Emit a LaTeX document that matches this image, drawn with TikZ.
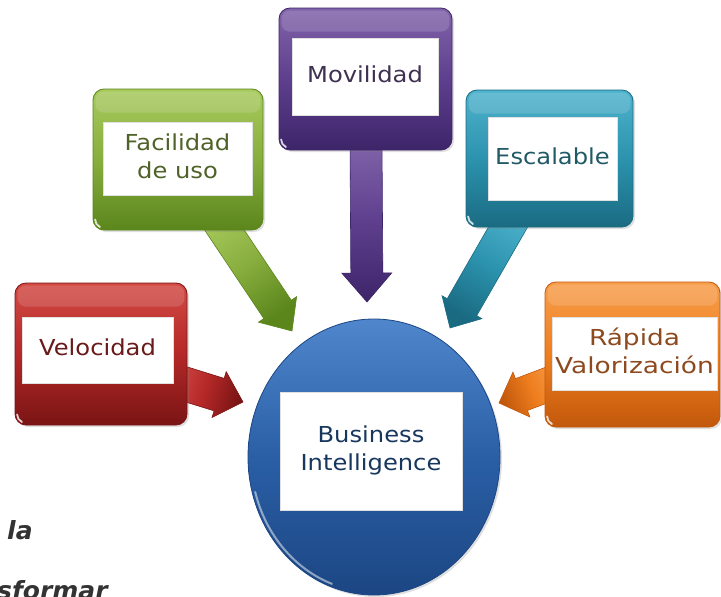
\documentclass[tikz,border=0pt]{standalone}
\usepackage{fontspec}
\setmainfont{DejaVu Sans}
\usetikzlibrary{calc,shadows,shapes.geometric}

% palette
\definecolor{redT}{HTML}{D24A44}\definecolor{redM}{HTML}{B42828}\definecolor{redB}{HTML}{7A1414}\definecolor{redTx}{HTML}{6A1A1A}
\definecolor{grnT}{HTML}{A8CA5E}\definecolor{grnM}{HTML}{88AE3E}\definecolor{grnB}{HTML}{5B861C}\definecolor{grnTx}{HTML}{4F6228}
\definecolor{purT}{HTML}{8164AA}\definecolor{purM}{HTML}{5E3F8E}\definecolor{purB}{HTML}{3D2569}\definecolor{purTx}{HTML}{3F3151}
\definecolor{tealT}{HTML}{4EB2CC}\definecolor{tealM}{HTML}{2C93AE}\definecolor{tealB}{HTML}{1A6B82}\definecolor{tealTx}{HTML}{215967}
\definecolor{orgT}{HTML}{F79E4C}\definecolor{orgM}{HTML}{EE7E1E}\definecolor{orgB}{HTML}{C2580C}\definecolor{orgTx}{HTML}{8E4A1E}
\definecolor{bluT}{HTML}{4F86CC}\definecolor{bluM}{HTML}{2A5FA6}\definecolor{bluB}{HTML}{1C4683}\definecolor{bluTx}{HTML}{17375E}

% horizontally widened, centred lines of text
\newcommand\widetext[2]{\scalebox{#1}[1]{\begin{tabular}{@{}c@{}}#2\end{tabular}}}

% block arrow: #1 colour prefix, #2 start, #3 tip, #4 half shaft, #5 half head, #6 head length, #7 shading angle
\newcommand\blockarrow[7]{%
  \coordinate (#2-base) at ($(#3)!#6!(#2)$);
  \path[draw=#1B, line width=0.6pt, left color=#1T, right color=#1B, middle color=#1M, shading angle=#7]
    ($(#2)!#4!90:(#3)$) -- ($(#2-base)!#4!90:(#3)$) -- ($(#2-base)!#5!90:(#3)$) -- (#3)
    -- ($(#2-base)!#5!-90:(#3)$) -- ($(#2-base)!#4!-90:(#3)$) -- ($(#2)!#4!-90:(#3)$) -- cycle;}

\tikzset{
  panel/.style={rounded corners=11pt, line width=0.8pt, inner sep=0pt,
    drop shadow={opacity=0.25, shadow xshift=2pt, shadow yshift=-2pt}},
  plate/.style={fill=white, draw=black!12, line width=0.4pt, inner sep=0pt,
    font=\fontsize{22}{28}\selectfont},
  gloss/.style={white, opacity=0.14},
  spark/.style={white, opacity=0.8},
  side/.style={font=\bfseries\itshape\fontsize{25}{30}\selectfont, text=black!80, inner sep=0pt}
}

\begin{document}
\begin{tikzpicture}[x=1pt, y=-1pt]
\useasboundingbox (0,0) rectangle (721,597);

% arrow end points
\coordinate (vs) at (172,380);  \coordinate (vt) at (243,402);
\coordinate (fs) at (209,207);  \coordinate (ft) at (292,331);
\coordinate (ms) at (366,140);  \coordinate (mt) at (367,302);
\coordinate (es) at (519,208);  \coordinate (et) at (450,328);
\coordinate (rs) at (560,380);  \coordinate (rt) at (499,403);

% arrows, behind the panels
\blockarrow{red}{vs}{vt}{17pt}{24pt}{25pt}{73}
\blockarrow{grn}{fs}{ft}{16.5pt}{23pt}{26pt}{34}
\blockarrow{pur}{ms}{mt}{16pt}{25pt}{29pt}{0}
\blockarrow{teal}{es}{et}{17pt}{23pt}{24pt}{-30}
\blockarrow{org}{rs}{rt}{17pt}{24pt}{24pt}{-69}

% coloured panels
\node[panel, draw=redB, top color=redT, bottom color=redB, middle color=redM,
      minimum width=172pt, minimum height=142pt] (vel) at (101,354) {};
\node[panel, draw=grnB, top color=grnT, bottom color=grnB, middle color=grnM,
      minimum width=170pt, minimum height=141pt] (fac) at (178,159.5) {};
\node[panel, draw=purB, top color=purT, bottom color=purB, middle color=purM,
      minimum width=173pt, minimum height=142pt] (mov) at (365.5,79) {};
\node[panel, draw=tealB, top color=tealT, bottom color=tealB, middle color=tealM,
      minimum width=167pt, minimum height=137pt] (esc) at (549.5,158.5) {};
\node[panel, draw=orgB, top color=orgT, bottom color=orgB, middle color=orgM,
      minimum width=175pt, minimum height=145pt] (rap) at (632.5,354.5) {};

% glossy top bands and corner glints
\foreach \b in {vel,fac,mov,esc,rap}{
  \fill[gloss, rounded corners=8pt] ($(\b.north west)+(3,3)$) rectangle ($(\b.north east)+(-3,24)$);
  \draw[spark, line width=1.8pt, line cap=round] ($(\b.south west)+(2.5,-11)$) arc[radius=8.5pt, start angle=180, end angle=245];
}

% central disc
\node[ellipse, draw=bluB, line width=0.8pt, top color=bluT, bottom color=bluB, middle color=bluM,
      minimum width=252pt, minimum height=276pt, inner sep=0pt,
      drop shadow={opacity=0.25, shadow xshift=2pt, shadow yshift=-2pt}] (bi) at (374,457) {};
% light rim along the lower left of the disc
\draw[white, opacity=0.5, line width=2pt, line cap=round]
  ($(bi.center)+({123*cos(195)},{-135*sin(195)})$) arc[x radius=123pt, y radius=135pt, start angle=195, end angle=250];

% text plates
\node[plate, text=redTx,  minimum width=151pt, minimum height=66pt] (velt) at (97.5,350) {\widetext{1.1}{Velocidad}};
\node[plate, text=grnTx,  minimum width=149pt, minimum height=73pt] (fact) at (177.5,158.5) {\widetext{1.1}{Facilidad\\de uso}};
\node[plate, text=purTx,  minimum width=146pt, minimum height=77pt] (movt) at (365,76.5) {\widetext{1.1}{Movilidad}};
\node[plate, text=tealTx, minimum width=129pt, minimum height=83pt] (esct) at (552.5,158.5) {\widetext{1.1}{Escalable}};
\node[plate, text=orgTx,  minimum width=165pt, minimum height=73pt] (rapt) at (634.5,353.5) {\widetext{1.2}{Rápida\\Valorización}};
\node[plate, text=bluTx,  minimum width=182pt, minimum height=118pt] (bit) at (371,451) {\widetext{1.1}{Business\\Intelligence}};

% fragments of surrounding text
\node[side, anchor=base west] (la) at (7,539) {la};
\node[side, anchor=base west] (sf) at (-3,599) {sformar};
\end{tikzpicture}
\end{document}
